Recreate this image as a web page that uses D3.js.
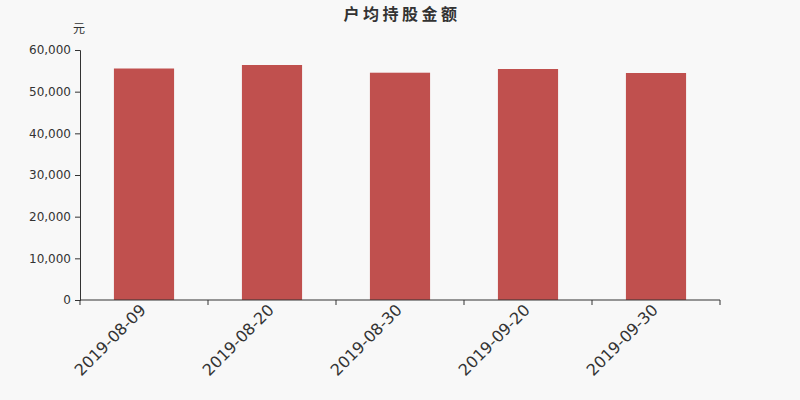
<!DOCTYPE html>
<html>
<head>
<meta charset="utf-8">
<script src="https://cdn.jsdelivr.net/npm/d3@7"></script>
<style>
  body { margin: 0; background: #f8f8f8; }
  svg { display: block; }
  svg text { font-family: "DejaVu Sans", "Noto Sans CJK SC", sans-serif; }
</style>
</head>
<body>
<svg id="chart" width="800" height="400"></svg>
<script>
// data
const categories = ['2019-08-09', '2019-08-20', '2019-08-30', '2019-09-20', '2019-09-30'];
const values = [55560, 56400, 54550, 55440, 54480];
const yTicks = [0, 10000, 20000, 30000, 40000, 50000, 60000];

const width = 800;
const height = 400;
const margin = {top: 50, right: 80, bottom: 100, left: 80};

const svg = d3.select('#chart');

svg.append('rect')
    .attr('width', width)
    .attr('height', height)
    .attr('fill', '#f8f8f8');

const x = d3.scaleBand()
    .domain(categories)
    .range([margin.left, width - margin.right])
    .paddingInner(0.53)
    .paddingOuter(0.265);

const y = d3.scaleLinear()
    .domain([0, 60000])
    .range([height - margin.bottom, margin.top]);

// title
svg.append('text')
    .attr('x', width / 2 + 2)
    .attr('y', 20)
    .attr('text-anchor', 'middle')
    .attr('font-size', 16)
    .attr('font-weight', 'bold')
    .attr('letter-spacing', 3.5)
    .attr('fill', '#333')
    .text('户均持股金额');

// unit
svg.append('text')
    .attr('x', 79)
    .attr('y', 33)
    .attr('text-anchor', 'middle')
    .attr('font-size', 12)
    .attr('fill', '#333')
    .text('元');

// bars
svg.append('g')
    .selectAll('rect')
    .data(values)
    .enter()
    .append('rect')
    .attr('x', (d, i) => x(categories[i]))
    .attr('y', d => y(d))
    .attr('width', x.bandwidth())
    .attr('height', d => y(0) - y(d))
    .attr('fill', '#c0504e');

// y axis
const yAxis = svg.append('g')
    .attr('transform', `translate(${margin.left},0)`)
    .call(d3.axisLeft(y).tickValues(yTicks).tickFormat(d3.format(',')).tickSizeOuter(0).tickSize(5));
yAxis.attr('font-family', null);
yAxis.select('.domain').attr('stroke', '#333');
yAxis.selectAll('.tick line').attr('stroke', '#333');
yAxis.selectAll('text').attr('fill', '#333').attr('font-size', 12).attr('x', -9);

// x axis with ticks at band boundaries
const xAxis = svg.append('g')
    .attr('transform', `translate(0,${height - margin.bottom})`);
xAxis.append('line')
    .attr('x1', margin.left)
    .attr('x2', width - margin.right)
    .attr('stroke', '#333');
const step = (width - margin.left - margin.right) / categories.length;
xAxis.selectAll('.tk')
    .data(d3.range(categories.length + 1))
    .enter()
    .append('line')
    .attr('x1', i => margin.left + i * step)
    .attr('x2', i => margin.left + i * step)
    .attr('y1', 0)
    .attr('y2', 5)
    .attr('stroke', '#333');
xAxis.selectAll('.lbl')
    .data(categories)
    .enter()
    .append('text')
    .attr('text-anchor', 'end')
    .attr('font-size', 16)
    .attr('fill', '#333')
    .attr('transform', d => `translate(${x(d) + x.bandwidth() / 2 + 3},${11}) rotate(-45)`)
    .text(d => d);
</script>
</body>
</html>
